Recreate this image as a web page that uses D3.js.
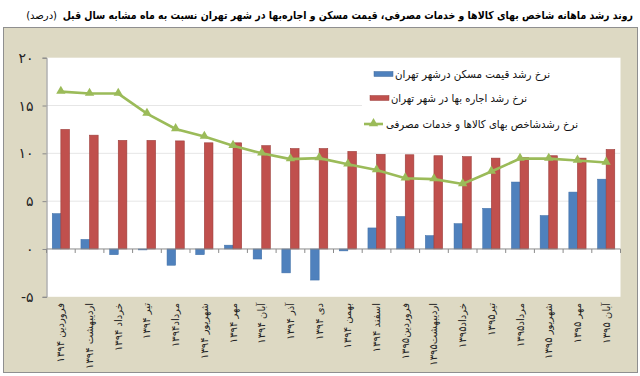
<!DOCTYPE html>
<html>
<head>
<meta charset="utf-8">
<style>
  body { margin: 0; background: #fff; font-family: "DejaVu Sans", sans-serif; }
  svg text { font-family: "DejaVu Sans", sans-serif; }
</style>
</head>
<body>
<div id="graph_item"></div>
<script src="https://d3js.org/d3.v7.min.js"></script>
<script>
// chart values
var months = ["فروردین ۱۳۹۴", "اردیبهشت ۱۳۹۴", "خرداد ۱۳۹۴", "تیر ۱۳۹۴", "مرداد۱۳۹۴",
  "شهریور ۱۳۹۴", "مهر ۱۳۹۴", "آبان ۱۳۹۴", "آذر ۱۳۹۴", "دی ۱۳۹۴",
  "بهمن ۱۳۹۴", "اسفند ۱۳۹۴", "فروردین۱۳۹۵", "اردیبهشت۱۳۹۵", "خرداد۱۳۹۵",
  "تیر۱۳۹۵", "مرداد۱۳۹۵", "شهریور ۱۳۹۵", "مهر ۱۳۹۵", "آبان ۱۳۹۵"];
var housing = [3.7, 1.0, -0.6, -0.1, -1.7, -0.6, 0.4, -1.05, -2.5, -3.25,
  -0.2, 2.2, 3.4, 1.4, 2.65, 4.25, 7.0, 3.5, 5.95, 7.3];
var rent = [12.5, 11.9, 11.35, 11.35, 11.3, 11.1, 11.1, 10.8, 10.5, 10.5,
  10.2, 9.9, 9.85, 9.75, 9.65, 9.5, 9.55, 9.75, 9.5, 10.4];
var cpi = [16.45, 16.25, 16.25, 14.15, 12.55, 11.75, 10.8, 10.0, 9.4, 9.5,
  8.85, 8.25, 7.4, 7.3, 6.8, 8.1, 9.45, 9.45, 9.25, 9.05];
var yTicks = [-5, 0, 5, 10, 15, 20];
var seriesNames = ["نرخ رشد قیمت مسکن  درشهر تهران", "نرخ رشد اجاره بها در شهر تهران", "نرخ رشدشاخص بهای کالاها و خدمات مصرفی"];
var title = "روند رشد ماهانه شاخص بهای کالاها و خدمات مصرفی، قیمت مسکن و اجاره‌بها در شهر تهران نسبت به ماه مشابه سال قبل";
var titleUnit = "(درصد)";

var W = 640, H = 376;
var blue = "#4f81bd", red = "#c0504d", green = "#9bbb59";

function fa(n) {
  var s = String(Math.abs(n)).replace(/[0-9]/g, function(c){ return "۰۱۲۳۴۵۶۷۸۹"[+c]; });
  return n < 0 ? "-" + s : s;
}

var svg = d3.select("#graph_item").append("svg")
  .attr("width", W).attr("height", H);

// title, squeezed horizontally to the width it has in the picture
var t = svg.append("text")
  .attr("text-anchor", "end")
  .style("font-size", "11px").style("font-weight", "bold")
  .text(title);
var sx = 571 / t.node().getComputedTextLength();
t.attr("transform", "translate(633,19) scale(" + sx + ",1)");
svg.append("text")
  .attr("x", 57).attr("y", 19)
  .attr("text-anchor", "end")
  .style("font-size", "10px")
  .text(titleUnit);

// outer frame
svg.append("rect")
  .attr("x", 3.5).attr("y", 27.5).attr("width", 634).attr("height", 345)
  .attr("fill", "#ddd9c3").attr("stroke", "#8f8f8f");

var pLeft = 46.5, pRight = 620.5, pTop = 57.7, pBottom = 296.8;

// plot area
svg.append("rect")
  .attr("x", pLeft).attr("y", pTop).attr("width", pRight - pLeft).attr("height", pBottom - pTop)
  .attr("fill", "#fff");

var x = d3.scaleBand().domain(months).range([pLeft, pRight]);
var y = d3.scaleLinear().domain([-5, 20]).range([pBottom, pTop]);

// gridlines
svg.append("g").selectAll("line")
  .data(yTicks.filter(function(d){ return d > 0 && d < 20; }))
  .join("line")
    .attr("x1", pLeft).attr("x2", pRight)
    .attr("y1", function(d){ return y(d); }).attr("y2", function(d){ return y(d); })
    .attr("stroke", "#e6e6e6");

// bars
var bw = x.bandwidth() * 0.3;
svg.append("g").selectAll("rect")
  .data(housing)
  .join("rect")
    .attr("x", function(d, i){ return x(months[i]) + x.bandwidth() / 2 - bw; })
    .attr("y", function(d){ return y(Math.max(0, d)); })
    .attr("width", bw)
    .attr("height", function(d){ return Math.abs(y(d) - y(0)); })
    .attr("fill", blue).attr("stroke", "#3f6ea6").attr("stroke-width", 0.5);

svg.append("g").selectAll("rect")
  .data(rent)
  .join("rect")
    .attr("x", function(d, i){ return x(months[i]) + x.bandwidth() / 2; })
    .attr("y", function(d){ return y(Math.max(0, d)); })
    .attr("width", bw)
    .attr("height", function(d){ return Math.abs(y(d) - y(0)); })
    .attr("fill", red).attr("stroke", "#9c3d3a").attr("stroke-width", 0.6);

// x axis at zero
var xAxis = svg.append("g")
  .attr("transform", "translate(0," + y(0) + ")");
xAxis.append("line").attr("x1", pLeft).attr("x2", pRight).attr("stroke", "#8a8a8a");
xAxis.selectAll(".tk")
  .data(d3.range(months.length + 1))
  .join("line")
    .attr("class", "tk")
    .attr("x1", function(i){ return pLeft + i * x.step(); })
    .attr("x2", function(i){ return pLeft + i * x.step(); })
    .attr("y1", 0).attr("y2", 4)
    .attr("stroke", "#8a8a8a");

// y axis
svg.append("g")
  .attr("transform", "translate(" + pLeft + ",0)")
  .call(d3.axisLeft(y).tickValues(yTicks).tickSize(4).tickPadding(9).tickFormat(fa))
  .call(function(g){
    g.select(".domain").attr("stroke", "#8a8a8a");
    g.selectAll(".tick line").attr("stroke", "#8a8a8a");
    g.selectAll(".tick text").style("font-size", "14px").attr("fill", "#222")
      .style("font-family", "DejaVu Sans, sans-serif");
  });

// cpi line
var line = d3.line()
  .x(function(d, i){ return x(months[i]) + x.bandwidth() / 2; })
  .y(function(d){ return y(d); });
svg.append("path")
  .datum(cpi)
  .attr("d", line)
  .attr("fill", "none").attr("stroke", green).attr("stroke-width", 2.6);
var tri = d3.symbol().type(d3.symbolTriangle).size(38);
svg.append("g").selectAll("path")
  .data(cpi)
  .join("path")
    .attr("d", tri)
    .attr("transform", function(d, i){ return "translate(" + (x(months[i]) + x.bandwidth() / 2) + "," + (y(d) - 0.5) + ")"; })
    .attr("fill", green);

// x labels
svg.append("g").selectAll("text")
  .data(months)
  .join("text")
    .attr("transform", function(d){ return "translate(" + (x(d) + x.bandwidth() / 2 + 3.5) + ",303) rotate(-90)"; })
    .attr("text-anchor", "end")
    .style("font-size", "10px")
    .attr("fill", "#222")
    .text(function(d){ return d; });

// legend
var lg = svg.append("g");
lg.append("rect").attr("x", 362).attr("y", 62).attr("width", 258).attr("height", 72).attr("fill", "#fff");
var legendRows = [
  {name: seriesNames[0], y: 74, tx: 395, len: 155, kind: "bar", color: blue},
  {name: seriesNames[1], y: 98, tx: 391, len: 136, kind: "bar", color: red},
  {name: seriesNames[2], y: 124, tx: 386, len: 192, kind: "line", color: green}
];
legendRows.forEach(function(r){
  if (r.kind == "bar") {
    lg.append("rect").attr("x", r.tx - 21).attr("y", r.y - 2.5).attr("width", 19).attr("height", 5)
      .attr("fill", r.color).attr("stroke", d3.color(r.color).darker(0.6)).attr("stroke-width", 0.5);
  } else {
    lg.append("line").attr("x1", r.tx - 22).attr("x2", r.tx - 3).attr("y1", r.y).attr("y2", r.y)
      .attr("stroke", r.color).attr("stroke-width", 2.6);
    lg.append("path").attr("d", tri).attr("transform", "translate(" + (r.tx - 12.5) + "," + (r.y - 0.5) + ")")
      .attr("fill", r.color);
  }
  lg.append("text")
    .attr("x", r.tx).attr("y", r.y + 4)
    .style("font-size", "11px")
    .attr("fill", "#111")
    .attr("textLength", r.len).attr("lengthAdjust", "spacingAndGlyphs")
    .text(r.name);
});
</script>
</body>
</html>
